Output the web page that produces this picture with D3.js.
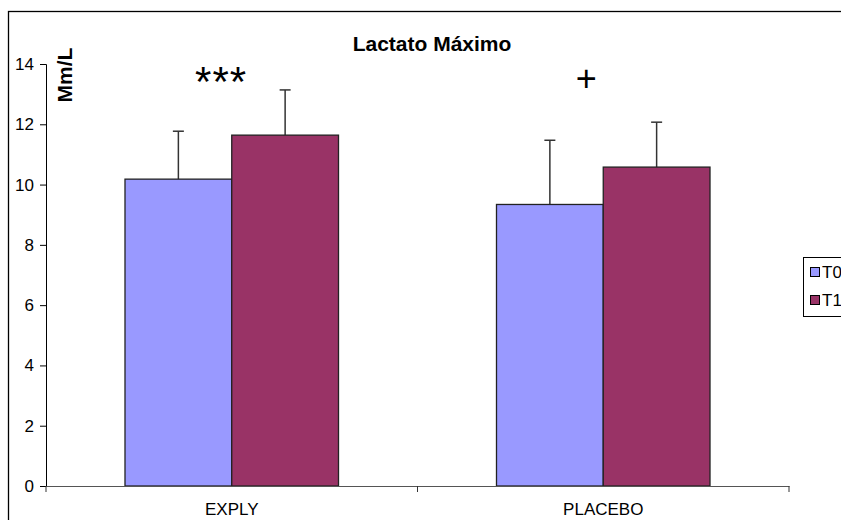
<!DOCTYPE html>
<html>
<head>
<meta charset="utf-8">
<script src="https://cdn.jsdelivr.net/npm/d3@7"></script>
<style>
  body { margin: 0; background: #fff; }
  svg { font-family: Arial, "Liberation Sans", sans-serif; }
</style>
</head>
<body>
<div id="chart"></div>
<script>
// data
const groups = ["EXPLY", "PLACEBO"];
const series = ["T0", "T1"];
const t0Values = [10.18, 9.34];
const t1Values = [11.64, 10.58];
const t0Errors = [1.59, 2.13];
const t1Errors = [1.5, 1.49];
const marks = ["***", "+"];
const yTicks = [0, 2, 4, 6, 8, 10, 12, 14];

const width = 841, height = 520;
const margin = { top: 64, right: 52, bottom: 34, left: 46 };

const svg = d3.select("#chart").append("svg")
    .attr("width", width)
    .attr("height", height);

// outer chart frame (runs off the right edge like the original)
svg.append("rect")
    .attr("x", 8.5).attr("y", 11.5)
    .attr("width", 900).attr("height", 520)
    .attr("fill", "none")
    .attr("stroke", "#000")
    .attr("stroke-width", 1.3);

const x = d3.scaleBand()
    .domain(groups)
    .range([margin.left, width - margin.right]);

const xInner = d3.scaleBand()
    .domain(series)
    .range([0, x.bandwidth()])
    .paddingOuter(0.74);

const y = d3.scaleLinear()
    .domain([0, 14])
    .range([height - margin.bottom, margin.top]);

const colors = { T0: "#9999ff", T1: "#993366" };

const rows = groups.map((g, i) => ({
    group: g,
    bars: [
        { key: "T0", value: t0Values[i], err: t0Errors[i] },
        { key: "T1", value: t1Values[i], err: t1Errors[i] }
    ]
}));

// y axis
svg.append("g")
    .attr("transform", `translate(${margin.left},0)`)
    .call(d3.axisLeft(y).tickValues(yTicks).tickSize(6).tickPadding(6))
    .call(g => g.select(".domain").attr("stroke", "#000"))
    .call(g => g.selectAll("text").attr("font-size", 17).attr("fill", "#000"));

// bars
const grp = svg.selectAll(".grp")
    .data(rows)
    .join("g")
    .attr("transform", d => `translate(${x(d.group)},0)`);

// error bars first (upper only)
grp.selectAll(".err")
    .data(d => d.bars)
    .join("g")
    .each(function (d) {
        const cx = xInner(d.key) + xInner.bandwidth() / 2;
        const g = d3.select(this);
        g.append("line")
            .attr("x1", cx).attr("x2", cx)
            .attr("y1", y(d.value)).attr("y2", y(d.value + d.err))
            .attr("stroke", "#333").attr("stroke-width", 1.5);
        g.append("line")
            .attr("x1", cx - 5.5).attr("x2", cx + 5.5)
            .attr("y1", y(d.value + d.err)).attr("y2", y(d.value + d.err))
            .attr("stroke", "#333").attr("stroke-width", 1.5);
    });

grp.selectAll("rect")
    .data(d => d.bars)
    .join("rect")
    .attr("x", d => xInner(d.key))
    .attr("y", d => y(d.value))
    .attr("width", xInner.bandwidth())
    .attr("height", d => y(0) - y(d.value))
    .attr("fill", d => colors[d.key])
    .attr("stroke", "#222")
    .attr("stroke-width", 1.3);

// x axis
svg.append("g")
    .attr("transform", `translate(0,${y(0)})`)
    .call(d3.axisBottom(x).tickSize(0).tickPadding(17))
    .call(g => g.select(".domain").attr("stroke", "#555"))
    .call(g => g.selectAll("text").attr("font-size", 17).attr("fill", "#000"));

// category separator ticks
const sepTicks = [margin.left, x(groups[1]), width - margin.right];
svg.append("g").selectAll("line")
    .data(sepTicks)
    .join("line")
    .attr("x1", d => d).attr("x2", d => d)
    .attr("y1", y(0)).attr("y2", y(0) + 6)
    .attr("stroke", "#333");

// significance marks
svg.selectAll(".mark")
    .data(groups)
    .join("text")
    .attr("x", (d, i) => x(d) + xInner("T0") + xInner.bandwidth() * (i === 0 ? 0.9 : 0.84))
    .attr("y", (d, i) => i === 0 ? 96 : 91)
    .attr("text-anchor", "middle")
    .attr("font-size", (d, i) => i === 0 ? 42 : 36)
    .attr("letter-spacing", (d, i) => i === 0 ? 1 : 0)
    .attr("fill", "#000")
    .text((d, i) => marks[i]);

// title
svg.append("text")
    .attr("x", 432).attr("y", 51)
    .attr("text-anchor", "middle")
    .attr("font-size", 21)
    .attr("font-weight", "bold")
    .text("Lactato Máximo");

// y label
svg.append("text")
    .attr("transform", "translate(72,75) rotate(-90)")
    .attr("text-anchor", "middle")
    .attr("font-size", 21)
    .attr("font-weight", "bold")
    .text("Mm/L");

// legend
const legend = svg.append("g").attr("transform", "translate(803,257)");
legend.append("rect")
    .attr("x", 0.5).attr("y", 0.5)
    .attr("width", 60).attr("height", 59)
    .attr("fill", "#fff").attr("stroke", "#000");
legend.selectAll(".li")
    .data(series)
    .join("g")
    .attr("transform", (d, i) => `translate(7,${15 + i * 28})`)
    .each(function (d) {
        const g = d3.select(this);
        g.append("rect")
            .attr("x", 0.5).attr("y", -4.5)
            .attr("width", 9).attr("height", 9)
            .attr("fill", colors[d]).attr("stroke", "#000");
        g.append("text")
            .attr("x", 12).attr("y", 6)
            .attr("font-size", 17)
            .text(d);
    });
</script>
</body>
</html>
